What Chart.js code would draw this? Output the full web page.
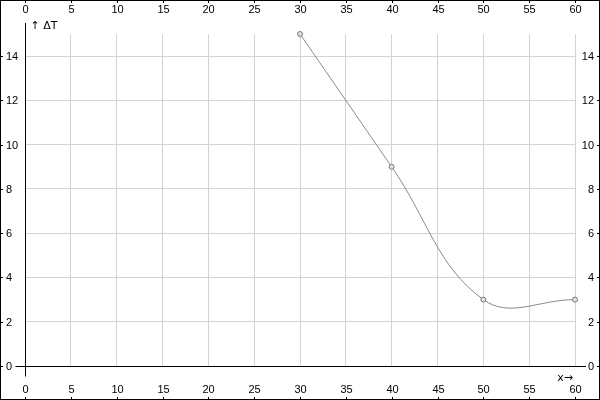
<!DOCTYPE html>
<html>
<head>
<meta charset="utf-8">
<script src="https://cdn.jsdelivr.net/npm/chart.js"></script>
<style>
  html, body { margin: 0; padding: 0; background: #fff; }
  canvas { display: block; }
</style>
</head>
<body>
<canvas id="chart" width="600" height="400"></canvas>
<script>
// data
const xValues = [30, 40, 50, 60];
const dtValues = [15, 9, 3, 3];
const xTicks = [0, 5, 10, 15, 20, 25, 30, 35, 40, 45, 50, 55, 60];
const yTicks = [0, 2, 4, 6, 8, 10, 12, 14];
const xLabel = "x\u2192";
const yLabel = "\u2191 \u0394T";

const FONT = '11px "Liberation Sans", Arial, sans-serif';
const CAPTION_FONT = '11px "DejaVu Sans", sans-serif';
const GRID = "#d3d3d3";

// white background, frame, origin axes, tick marks and labels on all four sides
const frameAxes = {
    id: "frameAxes",
    beforeDraw(chart) {
        const ctx = chart.ctx;
        ctx.save();
        ctx.fillStyle = "#fff";
        ctx.fillRect(0, 0, chart.width, chart.height);
        ctx.restore();
    },
    afterDraw(chart) {
        const ctx = chart.ctx;
        const xs = chart.scales.x, ys = chart.scales.y;
        const W = chart.width, H = chart.height;
        const area = chart.chartArea;
        ctx.save();
        ctx.strokeStyle = "#000";
        ctx.fillStyle = "#000";
        ctx.lineWidth = 1;
        ctx.font = FONT;

        const x0 = Math.round(xs.getPixelForValue(0)) + 0.5;
        const y0 = Math.round(ys.getPixelForValue(0)) + 0.5;

        ctx.beginPath();
        ctx.moveTo(x0, area.top - 11);
        ctx.lineTo(x0, y0 + 10);
        ctx.moveTo(x0 - 10, y0);
        ctx.lineTo(area.right + 11, y0);
        ctx.stroke();

        // x ticks top and bottom
        ctx.textAlign = "center";
        ctx.textBaseline = "middle";
        xTicks.forEach(v => {
            const px = Math.round(xs.getPixelForValue(v)) + 0.5;
            ctx.beginPath();
            ctx.moveTo(px, 0);
            ctx.lineTo(px, 3);
            ctx.moveTo(px, H - 3);
            ctx.lineTo(px, H);
            ctx.stroke();
            ctx.fillText(String(v), px, 10);
            ctx.fillText(String(v), px, H - 10);
        });

        // y ticks left and right
        yTicks.forEach(v => {
            const py = Math.round(ys.getPixelForValue(v)) + 0.5;
            ctx.beginPath();
            ctx.moveTo(0, py);
            ctx.lineTo(3, py);
            ctx.moveTo(W - 3, py);
            ctx.lineTo(W, py);
            ctx.stroke();
            ctx.textAlign = "left";
            ctx.fillText(String(v), 6, py);
            ctx.textAlign = "right";
            ctx.fillText(String(v), W - 6, py);
        });

        // axis captions
        ctx.font = CAPTION_FONT;
        ctx.textBaseline = "alphabetic";
        ctx.textAlign = "left";
        ctx.fillText(yLabel, x0 + 5, area.top - 5);
        ctx.textAlign = "right";
        ctx.fillText(xLabel, area.right - 2, y0 + 14);

        ctx.strokeRect(0.5, 0.5, W - 1, H - 1);
        ctx.restore();
    }
};

new Chart(document.getElementById("chart"), {
    type: "line",
    data: {
        datasets: [{
            data: xValues.map((x, i) => ({ x: x, y: dtValues[i] })),
            borderColor: "#8a8a8a",
            borderWidth: 1,
            tension: 0.4,
            pointRadius: 2.5,
            pointBackgroundColor: "#e2e2e2",
            pointBorderColor: "#7a7a7a",
            pointBorderWidth: 1,
            clip: false
        }]
    },
    options: {
        responsive: false,
        devicePixelRatio: 1,
        animation: false,
        layout: { padding: { left: 25, right: 25, top: 34, bottom: 34 } },
        plugins: { legend: { display: false }, tooltip: { enabled: false } },
        scales: {
            x: {
                type: "linear",
                min: 0,
                max: 60,
                afterBuildTicks: s => { s.ticks = xTicks.map(v => ({ value: v })); },
                ticks: { display: false },
                grid: { color: GRID, drawTicks: false },
                border: { display: false }
            },
            y: {
                type: "linear",
                min: 0,
                max: 15,
                afterBuildTicks: s => { s.ticks = yTicks.map(v => ({ value: v })); },
                ticks: { display: false },
                grid: { color: GRID, drawTicks: false },
                border: { display: false }
            }
        }
    },
    plugins: [frameAxes]
});
</script>
</body>
</html>
